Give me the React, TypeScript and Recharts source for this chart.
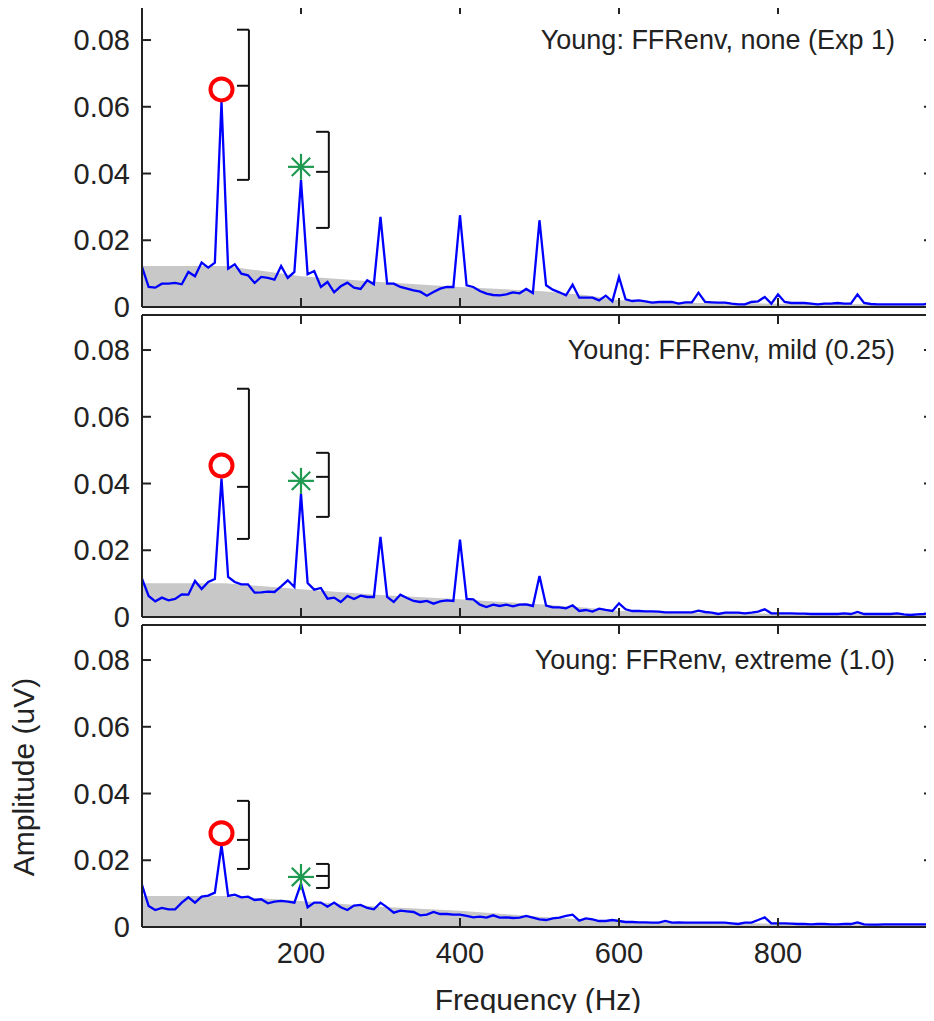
import React from 'react';
import {
  ComposedChart, Line, Area, Scatter, XAxis, YAxis, ReferenceLine,
} from 'recharts';

// ---------- data ----------
const FREQ_STEP = 1000 / 120; // Hz per spectral bin

const ampNone = [
  0.012, 0.006, 0.0058, 0.007, 0.007, 0.0072, 0.0068, 0.0105, 0.0092, 0.0133,
  0.0118, 0.0133, 0.0615, 0.0115, 0.0128, 0.010, 0.0095, 0.0072, 0.009, 0.0087,
  0.0082, 0.0123, 0.0087, 0.0105, 0.038, 0.0098, 0.0108, 0.006, 0.0075, 0.0044,
  0.0062, 0.0073, 0.0058, 0.0054, 0.008, 0.0068, 0.027, 0.007, 0.007, 0.006,
  0.0055, 0.005, 0.0046, 0.0034, 0.0045, 0.0055, 0.006, 0.006, 0.0275, 0.0065,
  0.006, 0.0048, 0.004, 0.0036, 0.0035, 0.0038, 0.0044, 0.0041, 0.0054, 0.0042,
  0.026, 0.0065, 0.0052, 0.0044, 0.0035, 0.0067, 0.0028, 0.0028, 0.0028, 0.002,
  0.0034, 0.0017, 0.009, 0.0023, 0.0018, 0.002, 0.0017, 0.0013, 0.0015, 0.0015,
  0.0015, 0.001, 0.0014, 0.0014, 0.0043, 0.0015, 0.0014, 0.0013, 0.0013, 0.001,
  0.0008, 0.0008, 0.0015, 0.0017, 0.003, 0.001, 0.0038, 0.0015, 0.0012, 0.0012,
  0.0012, 0.001, 0.0008, 0.001, 0.001, 0.0012, 0.001, 0.001, 0.0038, 0.0012,
  0.0009, 0.0008, 0.0008, 0.0008, 0.0008, 0.0008, 0.0008, 0.0008, 0.0008, 0.0012, 0.0045,
];

const ampMild = [
  0.0115, 0.0063, 0.0047, 0.0058, 0.005, 0.0054, 0.0068, 0.0067, 0.0108, 0.0084,
  0.0105, 0.0114, 0.0415, 0.012, 0.0105, 0.0098, 0.0098, 0.0073, 0.0074, 0.0076,
  0.0075, 0.0092, 0.011, 0.009, 0.037, 0.0102, 0.0082, 0.0087, 0.0055, 0.0058,
  0.0045, 0.0063, 0.0054, 0.0064, 0.006, 0.006, 0.024, 0.006, 0.0045, 0.0067,
  0.0057, 0.0048, 0.0045, 0.0048, 0.004, 0.0047, 0.005, 0.0048, 0.0232, 0.0054,
  0.0053, 0.0037, 0.003, 0.0037, 0.0033, 0.0037, 0.0032, 0.0037, 0.0038, 0.0033,
  0.0123, 0.0034, 0.0029, 0.0029, 0.0026, 0.0035, 0.0018, 0.0021, 0.0016, 0.0025,
  0.0021, 0.0018, 0.0041, 0.0023, 0.0018, 0.0018, 0.0017, 0.0017, 0.0016, 0.0014,
  0.0014, 0.0014, 0.0014, 0.0014, 0.0019, 0.0015, 0.0013, 0.0009, 0.0013, 0.0013,
  0.0013, 0.0011, 0.0013, 0.0016, 0.0023, 0.0011, 0.0011, 0.0011, 0.0011, 0.001,
  0.001, 0.0009, 0.0009, 0.0009, 0.0009, 0.0009, 0.0011, 0.0009, 0.0015, 0.0009,
  0.0009, 0.0009, 0.0009, 0.0009, 0.0011, 0.0008, 0.0006, 0.0008, 0.0009, 0.0012, 0.002,
];

const ampExtreme = [
  0.0126, 0.0063, 0.0051, 0.0057, 0.0053, 0.0053, 0.0073, 0.0089, 0.0073, 0.0091,
  0.0094, 0.0103, 0.0245, 0.0093, 0.0097, 0.0089, 0.0091, 0.0081, 0.0083, 0.0071,
  0.0076, 0.0078, 0.0076, 0.0073, 0.013, 0.0059, 0.0073, 0.0073, 0.0061, 0.0073,
  0.0059, 0.0051, 0.0064, 0.0066, 0.0057, 0.0053, 0.0073, 0.0059, 0.0043, 0.0049,
  0.0047, 0.0045, 0.0035, 0.0037, 0.0045, 0.0039, 0.0039, 0.0037, 0.0037, 0.0033,
  0.0029, 0.0031, 0.0028, 0.0035, 0.0028, 0.0029, 0.0027, 0.0028, 0.0033, 0.0028,
  0.0023, 0.0021, 0.0026, 0.0028, 0.0033, 0.0037, 0.0019, 0.0026, 0.0023, 0.0018,
  0.0018, 0.0021, 0.0018, 0.0015, 0.0015, 0.0014, 0.0014, 0.0013, 0.0013, 0.0018,
  0.0013, 0.0014, 0.0013, 0.0013, 0.0013, 0.0013, 0.0013, 0.0013, 0.0013, 0.0011,
  0.0009, 0.0013, 0.0013, 0.0021, 0.0029, 0.0011, 0.0011, 0.0011, 0.001, 0.0009,
  0.0009, 0.0008, 0.0009, 0.0009, 0.0008, 0.0008, 0.0009, 0.0009, 0.0014, 0.0008,
  0.0007, 0.0007, 0.0008, 0.0008, 0.0008, 0.0008, 0.0008, 0.0008, 0.0008, 0.0008, 0.0009,
];

// noise floor (gray)
const floorFreqs = [0, 105, 200, 300, 400, 500, 560, 600, 700, 800, 1000];
const floorNone = [0.0123, 0.0123, 0.0092, 0.0075, 0.006, 0.0048, 0.0035, 0.002, 0.0012, 0.001, 0.0007];
const floorMild = [0.0101, 0.0101, 0.0083, 0.0066, 0.0053, 0.0038, 0.0028, 0.0018, 0.0013, 0.001, 0.0007];
const floorExtreme = [0.0093, 0.0093, 0.0078, 0.0061, 0.0049, 0.0031, 0.0022, 0.0016, 0.0012, 0.001, 0.0007];

// markers: F0 (circle, 100 Hz) and 2F0 (asterisk, 200 Hz)
const F0_FREQ = 100;
const H2_FREQ = 200;
const f0Amp = [0.0652, 0.0454, 0.0281];
const h2Amp = [0.042, 0.0408, 0.015];
// brackets: [mean, upper, lower]
const f0Bars = [[0.0663, 0.0831, 0.0381], [0.039, 0.0684, 0.0234], [0.0261, 0.0378, 0.0174]];
const h2Bars = [[0.0405, 0.0525, 0.0237], [0.042, 0.0492, 0.030], [0.0153, 0.0189, 0.0117]];
const F0_BAR_X = [119.5, 134.5];
const H2_BAR_X = [219, 235];

const titles = [
  'Young: FFRenv, none (Exp 1)',
  'Young: FFRenv, mild (0.25)',
  'Young: FFRenv, extreme (1.0)',
];
const yTicks = [0, 0.02, 0.04, 0.06, 0.08];
const xTicks = [200, 400, 600, 800];
const X_DOMAIN = [0, 995];
const Y_DOMAIN = [0, 0.0905];

const amps = [ampNone, ampMild, ampExtreme];
const floors = [floorNone, floorMild, floorExtreme];

// ---------- styles ----------
const FONT = '"Liberation Sans", Arial, Helvetica, sans-serif';
const INK = '#222';
const TICK_LEN = 9;
const TICK_FS = 29;
const W = 934;
const PANEL_TOPS = [0, 310, 620];

const fmtY = (v: number) => (v === 0 ? '0' : v.toFixed(2));

const LeftTick = (p: any) => (
  <g>
    <line x1={p.x} y1={p.y} x2={p.x + TICK_LEN} y2={p.y} stroke={INK} strokeWidth={2} />
    <text x={p.x - 12} y={p.y} textAnchor="end" dominantBaseline="central"
      fontSize={TICK_FS} fontFamily={FONT} fill={INK}>{fmtY(p.payload.value)}</text>
  </g>
);
const RightTick = (p: any) => (
  <line x1={p.x} y1={p.y} x2={p.x - TICK_LEN} y2={p.y} stroke={INK} strokeWidth={2} />
);
const TopTick = (p: any) => (
  <line x1={p.x} y1={p.y} x2={p.x} y2={p.y + TICK_LEN} stroke={INK} strokeWidth={2} />
);
const BottomTickPlain = (p: any) => (
  <line x1={p.x} y1={p.y} x2={p.x} y2={p.y - TICK_LEN} stroke={INK} strokeWidth={2} />
);
const BottomTickLabel = (p: any) => (
  <g>
    <line x1={p.x} y1={p.y} x2={p.x} y2={p.y - TICK_LEN} stroke={INK} strokeWidth={2} />
    <text x={p.x} y={p.y + 36} textAnchor="middle"
      fontSize={TICK_FS} fontFamily={FONT} fill={INK}>{p.payload.value}</text>
  </g>
);

const CircleMarker = (p: any) => (
  <circle cx={p.cx} cy={p.cy} r={11} fill="none" stroke="#ff0000" strokeWidth={4} />
);
const AsteriskMarker = (p: any) => {
  const r = 13;
  const d = r * Math.SQRT1_2;
  const c = '#1f9a50';
  return (
    <g stroke={c} strokeWidth={2.2}>
      <line x1={p.cx - r} y1={p.cy} x2={p.cx + r} y2={p.cy} />
      <line x1={p.cx} y1={p.cy - r} x2={p.cx} y2={p.cy + r} />
      <line x1={p.cx - d} y1={p.cy - d} x2={p.cx + d} y2={p.cy + d} />
      <line x1={p.cx - d} y1={p.cy + d} x2={p.cx + d} y2={p.cy - d} />
    </g>
  );
};

function bracket(bar: number[], xs: number[], key: string) {
  const [mean, top, bottom] = bar;
  const [xl, xv] = xs;
  const common = { stroke: '#111', strokeWidth: 2, ifOverflow: 'visible' as const };
  return [
    <ReferenceLine key={key + 'v'} segment={[{ x: xv, y: top }, { x: xv, y: bottom }]} {...common} />,
    <ReferenceLine key={key + 't'} segment={[{ x: xl, y: top }, { x: xv, y: top }]} {...common} />,
    <ReferenceLine key={key + 'm'} segment={[{ x: xl, y: mean }, { x: xv, y: mean }]} {...common} />,
    <ReferenceLine key={key + 'b'} segment={[{ x: xl, y: bottom }, { x: xv, y: bottom }]} {...common} />,
  ];
}

function Panel({ idx }: { idx: number }) {
  const last = idx === 2;
  const lineData = amps[idx].map((v, i) => ({ f: i * FREQ_STEP, amp: v }));
  const floorData = floorFreqs.map((f, i) => ({ f, amp: floors[idx][i] }));
  const f0Data = [{ f: F0_FREQ, amp: f0Amp[idx] }];
  const h2Data = [{ f: H2_FREQ, amp: h2Amp[idx] }];
  const height = last ? 401 : 325;
  const axisLine = { stroke: INK, strokeWidth: 2 };
  return (
    <div style={{ position: 'absolute', left: 0, top: PANEL_TOPS[idx] }}>
      <ComposedChart width={W} height={height}
        margin={{ top: 4, right: 0, left: 0, bottom: last ? 0 : 17 }}>
        <XAxis dataKey="f" type="number" domain={X_DOMAIN} allowDataOverflow
          ticks={xTicks} interval={0} tickSize={0} tickMargin={0} tickLine={false}
          axisLine={axisLine} height={last ? 94 : 1}
          tick={last ? BottomTickLabel : BottomTickPlain} />
        <XAxis xAxisId="top" orientation="top" dataKey="f" type="number" domain={X_DOMAIN}
          allowDataOverflow ticks={xTicks} interval={0} tickSize={0} tickMargin={0}
          tickLine={false} axisLine={axisLine} height={1} tick={TopTick} />
        <YAxis type="number" domain={Y_DOMAIN} allowDataOverflow ticks={yTicks}
          interval={0} tickSize={0} tickMargin={0} tickLine={false} axisLine={axisLine}
          width={142} tick={LeftTick} />
        <YAxis yAxisId="right" orientation="right" type="number" domain={Y_DOMAIN}
          allowDataOverflow ticks={yTicks} interval={0} tickSize={0} tickMargin={0}
          tickLine={false} axisLine={axisLine} width={1} tick={RightTick} />
        <Area data={floorData} dataKey="amp" type="linear" stroke="none"
          fill="#c8c8c8" fillOpacity={1} isAnimationActive={false} />
        <Line data={lineData} dataKey="amp" type="linear" stroke="#0000ff"
          strokeWidth={2.3} dot={false} isAnimationActive={false} />
        {bracket(f0Bars[idx], F0_BAR_X, 'f0')}
        {bracket(h2Bars[idx], H2_BAR_X, 'h2')}
        <Scatter data={f0Data} dataKey="amp" shape={CircleMarker} isAnimationActive={false} />
        <Scatter data={h2Data} dataKey="amp" shape={AsteriskMarker} isAnimationActive={false} />
      </ComposedChart>
    </div>
  );
}

export default function App() {
  return (
    <div style={{ position: 'relative', width: W, height: 1021, margin: -8, overflow: 'hidden', background: '#fff' }}>
      {[0, 1, 2].map((i) => <Panel key={i} idx={i} />)}
      <svg width={W} height={1021} style={{ position: 'absolute', left: 0, top: 0, pointerEvents: 'none' }}>
        {titles.map((t, i) => (
          <text key={t} x={895} y={PANEL_TOPS[i] + 49} textAnchor="end"
            fontSize={27} fontFamily={FONT} fill={INK}>{t}</text>
        ))}
        <text x={538} y={1010} textAnchor="middle" fontSize={30} fontFamily={FONT} fill={INK}>
          Frequency (Hz)
        </text>
        <text x={34} y={777} textAnchor="middle" fontSize={30} fontFamily={FONT} fill={INK}
          transform="rotate(-90 34 777)">
          Amplitude (uV)
        </text>
      </svg>
    </div>
  );
}
